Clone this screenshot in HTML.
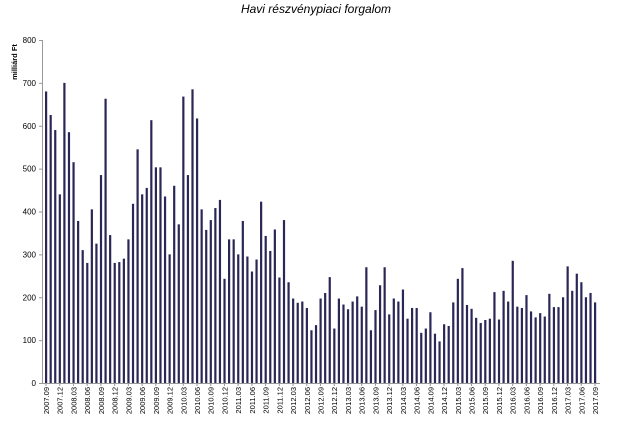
<!DOCTYPE html>
<html><head><meta charset="utf-8"><style>
html,body{margin:0;padding:0;background:#fff;}
svg{display:block;font-family:"Liberation Sans",sans-serif;}
</style></head><body>
<svg id="c" width="632" height="433" xmlns="http://www.w3.org/2000/svg">
<text x="316" y="13" text-anchor="middle" font-size="12" font-style="italic">Havi részvénypiaci forgalom</text>
<text transform="translate(17,62) rotate(-90)" text-anchor="middle" font-size="7.5" font-weight="bold">milliárd Ft</text>
<g id="g"></g>
</svg>
<script>
var v=[680,625,590,440,700,585,515,378,310,280,405,325,485,663,345,280,282,290,335,418,545,440,455,613,503,503,435,300,460,370,668,485,685,617,405,357,380,408,427,243,335,335,300,378,295,260,288,423,343,308,358,246,380,235,197,187,190,175,123,135,197,210,247,127,197,183,172,190,202,178,270,123,170,228,270,160,197,190,218,150,175,175,117,127,165,115,97,137,133,188,243,268,182,173,152,140,147,150,212,148,215,190,285,178,175,205,167,153,163,155,208,177,177,200,272,215,255,235,200,210,188];
var y0=383,sc=343/800,x0=46,dx=4.575,s='';
s+='<line x1="42.5" y1="40" x2="42.5" y2="383" stroke="#999" stroke-width="1"/>';
s+='<line x1="42" y1="383.5" x2="600" y2="383.5" stroke="#999" stroke-width="1"/>';
for(var t=0;t<=800;t+=100){var y=y0-t*sc;s+='<line x1="39" y1="'+(y+0.5)+'" x2="42" y2="'+(y+0.5)+'" stroke="#999"/>';s+='<text x="36" y="'+(y+3)+'" text-anchor="end" font-size="8">'+t+'</text>';}
for(var i=0;i<v.length;i++){var x=x0+i*dx,h=v[i]*sc;s+='<rect x="'+(x-1)+'" y="'+(y0-h)+'" width="2.2" height="'+h+'" fill="#2a2656"/>';
if(i%3==0){var m=9+i,yr=2007+Math.floor((m-1)/12),mo=((m-1)%12)+1;var lab=yr+'.'+(mo<10?'0':'')+mo;
s+='<line x1="'+x+'" y1="383" x2="'+x+'" y2="386" stroke="#999"/>';
s+='<text transform="translate('+(x+3)+',387) rotate(-90)" text-anchor="end" font-size="7.5">'+lab+'</text>';}}
document.getElementById('g').innerHTML=s;
</script>
</body></html>
